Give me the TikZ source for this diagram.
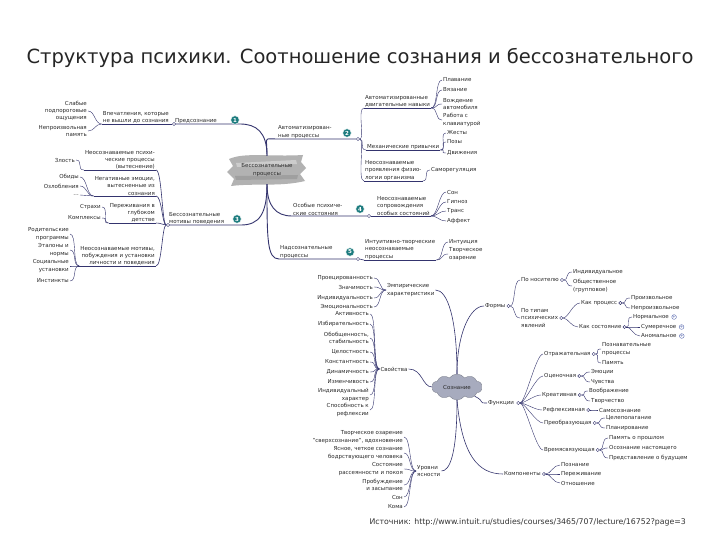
\documentclass[tikz,border=0pt]{standalone}
\usepackage{fontspec}
\setmainfont{DejaVu Sans}
\usetikzlibrary{shapes.symbols}
\definecolor{navy}{HTML}{34346E}
\definecolor{badgec}{HTML}{1C7B7E}
\definecolor{txt}{HTML}{2A2A2A}
\definecolor{cloudc}{HTML}{A7ABBE}
\definecolor{iconc}{HTML}{5A6BB0}
\newcommand\cR[2]{\draw[lconn] (#1) .. controls +(7,0) and +(-7,0) .. (#2);}
\newcommand\cL[2]{\draw[lconn] (#1) .. controls +(-7,0) and +(7,0) .. (#2);}
\tikzset{
 tx/.style={font=\fontsize{5.5}{7.2}\selectfont, text=txt, inner xsep=1pt, inner ysep=0.6pt},
 ul/.style={tx, append after command={(\tikzlastnode.south west) edge[bconn] (\tikzlastnode.south east)}},
 mconn/.style={draw=navy, line width=0.9pt},
 bconn/.style={draw=navy, line width=0.6pt},
 lconn/.style={draw=navy, line width=0.4pt},
 jn/.style={circle, draw=navy, fill=white, line width=0.4pt, inner sep=0pt, minimum size=3.2pt},
 badge/.style={circle, fill=badgec, draw=white, line width=0.4pt, text=white, font=\fontsize{5.5}{6}\selectfont\bfseries, inner sep=0pt, minimum size=8.5pt},
 plusic/.style={circle, draw=iconc, line width=0.4pt, inner sep=0pt, minimum size=4.5pt, text=iconc, font=\fontsize{4.5}{4.5}\selectfont},
}
\begin{document}
\begin{tikzpicture}[x=1pt,y=-1pt]
\useasboundingbox (0,0) rectangle (720,540);
\fill[white] (0,0) rectangle (720,540);
\node[font=\fontsize{19.5}{22}\selectfont, text=black!85] (title) at (360,58) {Структура психики. Соотношение сознания и бессознательного};

% ---------- top map ----------
\fill[gray!60] (229,159) .. controls (245,152) and (270,157) .. (303,155) -- (301,162) -- (306,168) -- (300,174) -- (305,181) .. controls (280,187) and (255,183) .. (231,186) -- (234,179) -- (227,172) -- (233,166) -- cycle;
\fill[gray!40] (236,163) -- (296,160) -- (297,164) -- (237,167) -- cycle;
\fill[gray!75] (235,176) -- (298,175) -- (297,179) -- (236,180) -- cycle;
\node[tx, align=center, minimum width=76, minimum height=28] (T) at (267,170) {Бессознательные\\процессы};

% 1
\node[tx, anchor=south west] (p1) at (174,124) {Предсознание};
\draw[mconn] (T.north) .. controls +(0,-24) and +(16,0) .. (240,124) -- (p1.south west);
\node[badge] (b1) at (235,120) {1};
\node[jn] (j1) at (p1.south west) {};
\node[ul, anchor=south east, align=center] (p1a) at (170,124) {Впечатления, которые\\не вышли до сознания};
\draw[bconn] (p1a.south east) -- (j1);
\node[tx, anchor=east, align=right] (l11) at (88,111) {Слабые\\подпороговые\\ощущения};
\node[tx, anchor=east, align=right] (l12) at (88,131) {Непроизвольная\\память};
\cL{p1a.south west}{l11.east}
\cL{p1a.south west}{l12.east}

% 2
\node[tx, anchor=south west, align=left] (p2) at (277,139) {Автоматизирован-\\ные процессы};
\node[jn] (j2) at (358,139) {};
\draw[mconn] (T.north) .. controls +(0,-20) and +(-14,0) .. (p2.south west) -- (j2);
\node[badge] (b2) at (347,133) {2};
\node[ul, anchor=south west, align=left] (p2a) at (364,108) {Автоматизированные\\двигательные навыки};
\node[ul, anchor=south west] (p2b) at (366,150) {Механические привычки};
\node[ul, anchor=south west, align=left] (p2c) at (364,181) {Неосознаваемые\\проявления физио-\\логии организма};
\cR{j2}{p2a.south west}
\cR{j2}{p2b.south west}
\cR{j2}{p2c.south west}
\node[tx, anchor=west] (l21) at (442,80) {Плавание};
\node[tx, anchor=west] (l22) at (442,90) {Вязание};
\node[tx, anchor=west, align=left] (l23) at (442,104) {Вождение\\автомобиля};
\node[tx, anchor=west, align=left] (l24) at (442,120) {Работа с\\клавиатурой};
\foreach \n in {l21,l22,l23,l24} {\cR{p2a.south east}{\n.west}}
\node[tx, anchor=west] (l25) at (446,133) {Жесты};
\node[tx, anchor=west] (l26) at (446,142) {Позы};
\node[tx, anchor=west] (l27) at (446,153) {Движения};
\foreach \n in {l25,l26,l27} {\cR{p2b.south east}{\n.west}}
\node[tx, anchor=west] (l28) at (430,170) {Саморегуляция};
\cR{p2c.south east}{l28.west}

% 3
\node[tx, anchor=south west, align=left] (p3) at (168,225) {Бессознательные\\мотивы поведения};
\draw[mconn] (T.south) .. controls +(0,30) and +(18,0) .. (241,225) -- (p3.south west);
\node[badge] (b3) at (237,219) {3};
\node[jn] (j3) at (p3.south west) {};
\node[ul, anchor=south east, align=right] (p3a) at (156,170) {Неосознаваемые психи-\\ческие процессы\\(вытеснение)};
\node[ul, anchor=south east, align=right] (p3b) at (156,196) {Негативные эмоции,\\вытесненные из\\сознания};
\node[ul, anchor=south east, align=right] (p3c) at (156,223) {Переживания в\\глубоком\\детстве};
\node[ul, anchor=south east, align=right] (p3d) at (156,266) {Неосознаваемые мотивы,\\побуждения и установки\\личности и поведения};
\foreach \n in {p3a,p3b,p3c,p3d} {\draw[bconn] (j3) .. controls +(-6,0) and +(6,0) .. (\n.south east);}
\node[tx, anchor=east] (l31) at (76,160) {Злость};
\cL{p3a.south west}{l31.east}
\node[tx, anchor=east] (l32) at (80,177) {Обиды};
\node[tx, anchor=east] (l33) at (80,186) {Озлобления};
\node[tx, anchor=east] (l34) at (80,195) {…};
\foreach \n in {l32,l33,l34} {\cL{p3b.south west}{\n.east}}
\node[tx, anchor=east] (l35) at (102,207) {Страхи};
\node[tx, anchor=east] (l36) at (102,218) {Комплексы};
\foreach \n in {l35,l36} {\cL{p3c.south west}{\n.east}}
\node[tx, anchor=east, align=right] (l37) at (70,234) {Родительские\\программы};
\node[tx, anchor=east, align=right] (l38) at (70,250) {Эталоны и\\нормы};
\node[tx, anchor=east, align=right] (l39) at (70,266) {Социальные\\установки};
\node[tx, anchor=east] (l310) at (70,281) {Инстинкты};
\foreach \n in {l37,l38,l39,l310} {\cL{p3d.south west}{\n.east}}

% 4
\node[tx, anchor=south west, align=left] (p4) at (292,216) {Особые психиче-\\ские состояния};
\node[jn] (j4) at (369,216) {};
\draw[mconn] (T.south) .. controls +(0,22) and +(-16,0) .. (p4.south west) -- (j4);
\node[badge] (b4) at (360,209) {4};
\node[ul, anchor=south west, align=left] (p4a) at (376,216) {Неосознаваемые\\сопровождения\\особых состояний};
\draw[bconn] (j4) -- (p4a.south west);
\node[tx, anchor=west] (l41) at (446,192) {Сон};
\node[tx, anchor=west] (l42) at (446,202) {Гипноз};
\node[tx, anchor=west] (l43) at (446,211) {Транс};
\node[tx, anchor=west] (l44) at (446,221) {Аффект};
\foreach \n in {l41,l42,l43,l44} {\cR{p4a.south east}{\n.west}}

% 5
\node[tx, anchor=south west, align=left] (p5) at (279,259) {Надсознательные\\процессы};
\node[jn] (j5) at (358,259) {};
\draw[mconn] (T.south) .. controls +(0,55) and +(-12,0) .. (p5.south west) -- (j5);
\node[badge] (b5) at (350,252) {5};
\node[ul, anchor=south west, align=left] (p5a) at (364,260) {Интуитивно-творческие\\неосознаваемые\\процессы};
\draw[bconn] (j5) .. controls +(3,0) and +(-3,0) .. (p5a.south west);
\node[tx, anchor=west] (l51) at (448,242) {Интуиция};
\node[tx, anchor=west, align=left] (l52) at (448,254) {Творческое\\озарение};
\foreach \n in {l51,l52} {\cR{p5a.south east}{\n.west}}

% ---------- bottom map ----------
\node[cloud, cloud puffs=10, cloud puff arc=110, aspect=2.2, fill=cloudc, draw=cloudc!70!black, line width=0.3pt, minimum width=50, minimum height=26, tx, inner sep=0pt] (B) at (457,387) {Сознание};

% empirical
\node[tx, anchor=west, align=left] (e) at (386,290) {Эмпирические\\характеристики};
\draw[bconn] (B.north) .. controls +(0,-55) and +(12,0) .. (e.east);
\node[tx, anchor=east] (e1) at (374,278) {Проецированность};
\node[tx, anchor=east] (e2) at (374,287) {Значимость};
\node[tx, anchor=east] (e3) at (374,298) {Индивидуальность};
\node[tx, anchor=east] (e4) at (374,307) {Эмоциональность};
\foreach \n in {e1,e2,e3,e4} {\cL{e.west}{\n.east}}

% forms
\node[tx, anchor=west] (f) at (484,306) {Формы};
\draw[bconn] (B.north) .. controls +(0,-40) and +(-14,0) .. (f.west);
\node[jn] (jf) at ([xshift=2]f.east) {};
\node[tx, anchor=west] (f1) at (520,280) {По носителю};
\node[tx, anchor=west, align=left] (f2) at (520,318) {По типам\\психических\\явлений};
\cR{jf}{f1.west}
\cR{jf}{f2.west}
\node[jn] (jf1) at ([xshift=2]f1.east) {};
\node[tx, anchor=west] (f11) at (572,272) {Индивидуальное};
\node[tx, anchor=west, align=left] (f12) at (572,286) {Общественное\\(групповое)};
\cR{jf1}{f11.west}
\cR{jf1}{f12.west}
\node[jn] (jf2) at ([xshift=2]f2.east) {};
\node[tx, anchor=west] (f2a) at (580,303) {Как процесс};
\node[tx, anchor=west] (f2b) at (578,327) {Как состояние};
\cR{jf2}{f2a.west}
\cR{jf2}{f2b.west}
\node[jn] (jf2a) at ([xshift=2]f2a.east) {};
\node[tx, anchor=west] (f2a1) at (630,298) {Произвольное};
\node[tx, anchor=west] (f2a2) at (630,308) {Непроизвольное};
\cR{jf2a}{f2a1.west}
\cR{jf2a}{f2a2.west}
\node[jn] (jf2b) at ([xshift=2]f2b.east) {};
\node[tx, anchor=west] (f2b1) at (632,317) {Нормальное};
\node[tx, anchor=west] (f2b2) at (640,327) {Сумеречное};
\node[tx, anchor=west] (f2b3) at (640,336) {Аномальное};
\foreach \n in {f2b1,f2b2,f2b3} {\cR{jf2b}{\n.west}
  \node[plusic, anchor=west] (\n i) at ([xshift=1.5]\n.east) {+};}

% properties
\node[tx] (s) at (394,369) {Свойства};
\draw[bconn] (B.west) .. controls +(-10,0) and +(14,0) .. (s.east);
\node[tx, anchor=east] (s1) at (370,314) {Активность};
\node[tx, anchor=east] (s2) at (370,324) {Избирательность};
\node[tx, anchor=east, align=right] (s3) at (370,338) {Обобщенность,\\стабильность};
\node[tx, anchor=east] (s4) at (370,352) {Целостность};
\node[tx, anchor=east] (s5) at (370,362) {Константность};
\node[tx, anchor=east] (s6) at (370,372) {Динамичность};
\node[tx, anchor=east] (s7) at (370,382) {Изменчивость};
\node[tx, anchor=east, align=right] (s8) at (370,395) {Индивидуальный\\характер};
\node[tx, anchor=east, align=right] (s9) at (370,410) {Способность к\\рефлексии};
\foreach \n in {s1,s2,s3,s4,s5,s6,s7,s8,s9} {\cL{s.west}{\n.east}}

% levels
\node[tx, anchor=west, align=left] (u) at (416,471) {Уровни\\ясности};
\draw[bconn] (B.south) .. controls +(0,55) and +(8,0) .. (u.east);
\node[tx, anchor=east, align=right] (u1) at (404,437) {Творческое озарение\\"сверхсознание", вдохновение};
\node[tx, anchor=east, align=right] (u2) at (404,453) {Ясное, четкое сознание\\бодрствующего человека};
\node[tx, anchor=east, align=right] (u3) at (404,469) {Состояние\\рассеянности и покоя};
\node[tx, anchor=east, align=right] (u4) at (404,485) {Пробуждение\\и засыпание};
\node[tx, anchor=east] (u5) at (404,497) {Сон};
\node[tx, anchor=east] (u6) at (404,507) {Кома};
\foreach \n in {u1,u2,u3,u4,u5,u6} {\cL{u.west}{\n.east}}

% functions
\node[tx, anchor=west] (fn) at (487,403) {Функции};
\draw[bconn] (B.south east) .. controls +(12,6) and +(-10,0) .. (fn.west);
\node[jn] (jfn) at ([xshift=3]fn.east) {};
\node[tx, anchor=west] (c1) at (543,354) {Отражательная};
\node[tx, anchor=west] (c2) at (543,376) {Оценочная};
\node[tx, anchor=west] (c3) at (541,395) {Креативная};
\node[tx, anchor=west] (c4) at (542,410) {Рефлексивная};
\node[tx, anchor=west] (c5) at (543,423) {Преобразующая};
\node[tx, anchor=west] (c6) at (543,450) {Времясвязующая};
\foreach \n in {c1,c2,c3,c4,c5,c6} {\cR{jfn}{\n.west}
  \node[jn] (j\n) at ([xshift=2]\n.east) {};}
\node[tx, anchor=west, align=left] (c11) at (601,349) {Познавательные\\процессы};
\node[tx, anchor=west] (c12) at (601,363) {Память};
\cR{jc1}{c11.west} \cR{jc1}{c12.west}
\node[tx, anchor=west] (c21) at (590,372) {Эмоции};
\node[tx, anchor=west] (c22) at (590,382) {Чувства};
\cR{jc2}{c21.west} \cR{jc2}{c22.west}
\node[tx, anchor=west] (c31) at (588,391) {Воображение};
\node[tx, anchor=west] (c32) at (590,401) {Творчество};
\cR{jc3}{c31.west} \cR{jc3}{c32.west}
\node[tx, anchor=west] (c41) at (598,410) {Самосознание};
\cR{jc4}{c41.west}
\node[tx, anchor=west] (c51) at (605,418) {Целеполагание};
\node[tx, anchor=west] (c52) at (605,428) {Планирование};
\cR{jc5}{c51.west} \cR{jc5}{c52.west}
\node[tx, anchor=west] (c61) at (608,438) {Память о прошлом};
\node[tx, anchor=west] (c62) at (608,448) {Осознание настоящего};
\node[tx, anchor=west] (c63) at (608,458) {Представление о будущем};
\cR{jc6}{c61.west} \cR{jc6}{c62.west} \cR{jc6}{c63.west}

% components
\node[tx, anchor=west] (k) at (503,474) {Компоненты};
\draw[bconn] (B.south) .. controls +(5,55) and +(-25,0) .. (k.west);
\node[jn] (jk) at ([xshift=2]k.east) {};
\node[tx, anchor=west] (k1) at (560,465) {Познание};
\node[tx, anchor=west] (k2) at (560,474) {Переживание};
\node[tx, anchor=west] (k3) at (560,483) {Отношение};
\foreach \n in {k1,k2,k3} {\cR{jk}{\n.west}}

\node[font=\fontsize{7.8}{9}\selectfont, anchor=west, text=black!80] (src) at (366,522) {Источник: http://www.intuit.ru/studies/courses/3465/707/lecture/16752?page=3};
\end{tikzpicture}
\end{document}
